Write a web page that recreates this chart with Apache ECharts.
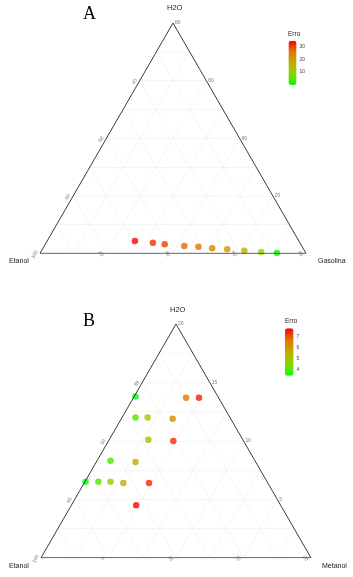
<!DOCTYPE html>
<html>
<head>
<meta charset="utf-8">
<script src="https://cdn.jsdelivr.net/npm/echarts@6/dist/echarts.min.js"></script>
<style>
  * { margin: 0; padding: 0; }
  body { background: #fff; }
  #chart-container { width: 353px; height: 577px; }
</style>
</head>
<body>
<div id="chart-container"></div>
<script>
  // painel A: Etanol / Gasolina / H2O
  var aH2O = [4.3, 3.7, 3.2, 2.6, 2.3, 1.8, 1.4, 0.9, 0.45, 0.1]
  var aGasolina = [26.4, 32.1, 35.9, 42.1, 46.5, 50.9, 55.6, 61.0, 66.3, 71.2]
  var aEtanol = [69.3, 64.2, 60.9, 55.3, 51.2, 47.3, 43.0, 38.1, 33.25, 28.7]
  var aErro = [34, 31, 30, 27, 26, 24, 20, 16, 9, 1]
  var aH2OTicks = [20, 40, 60, 80]
  var aGasTicks = [20, 40, 60, 80]
  var aEtTicks = [40, 60, 80, 100]
  var aErroTicks = [10, 20, 30]

  // painel B: Etanol / Metanol / H2O
  var bH2O = [13.8, 13.7, 13.7, 12.0, 12.0, 11.9, 10.1, 10.0, 8.3, 8.2, 6.5, 6.5, 6.5, 6.4, 6.4, 4.5]
  var bMetanol = [0.1, 3.9, 4.85, 1.0, 1.9, 3.8, 2.9, 4.8, 1.0, 2.9, 0.05, 1.0, 1.9, 2.9, 4.8, 4.8]
  var bEtanol = [86.1, 82.4, 81.45, 87.0, 86.1, 84.3, 87.0, 85.2, 90.7, 88.9, 93.45, 92.5, 91.6, 90.7, 88.8, 90.7]
  var bErro = [3.6, 6.7, 7.5, 4.1, 5.0, 6.4, 5.3, 7.4, 4.0, 5.6, 3.5, 4.1, 4.8, 5.5, 7.4, 7.8]
  var bH2OTicks = [5, 10, 15, 20]
  var bMetTicks = [5, 10, 15, 20]
  var bEtTicks = [85, 90, 95, 100]
  var bErroTicks = [4, 5, 6, 7]

  var H = Math.sqrt(3) / 2
  var gradient = ['#00FF00', '#8FD500', '#BFAB00', '#E27700', '#FF0000']

  // ternario -> cartesiano (triangulo unitario), r = eixo de baixo, t = topo
  function pt(r, t, span) {
    return [r / span + 0.5 * t / span, (t / span) * H]
  }

  function gridLines(span, gi) {
    var step = span / 8
    var data = []
    for (var k = 1; k < 8; k++) {
      var v = k * step
      data.push({ coords: [pt(0, v, span), pt(span - v, v, span)] })
      data.push({ coords: [pt(v, 0, span), pt(v, span - v, span)] })
      data.push({ coords: [pt(v, 0, span), pt(0, v, span)] })
    }
    return {
      type: 'lines', coordinateSystem: 'cartesian2d', xAxisIndex: gi, yAxisIndex: gi,
      silent: true, z: 1, data: data,
      lineStyle: { color: '#F0F0F0', width: 0.7, opacity: 1 },
    }
  }

  function border(span, gi) {
    return {
      type: 'line', xAxisIndex: gi, yAxisIndex: gi, symbol: 'none', silent: true, z: 5,
      data: [pt(0, 0, span), pt(span, 0, span), pt(0, span, span), pt(0, 0, span)],
      lineStyle: { color: '#3a3a3a', width: 1 },
    }
  }

  function tickLabels(gi, data, label) {
    return {
      type: 'scatter', xAxisIndex: gi, yAxisIndex: gi, symbolSize: 0, silent: true, z: 6,
      data: data,
      label: Object.assign({
        show: true, fontSize: 5, color: '#555', fontFamily: 'Liberation Sans',
        formatter: function (p) { return p.value[2] },
      }, label),
    }
  }

  function axisLabels(span, gi, topTicks, rightTicks, leftTicks) {
    return [
      tickLabels(gi, topTicks.map(function (t) { return pt(span - t, t, span).concat([t]) }),
        { position: 'right', distance: 2 }),
      tickLabels(gi, rightTicks.map(function (g) { return pt(g, 0, span).concat([g]) }),
        { position: 'inside', rotate: -60, offset: [-2.5, 5] }),
      tickLabels(gi, leftTicks.map(function (e) { return pt(0, 100 - e, span).concat([e]) }),
        { position: 'inside', rotate: 60, offset: [-3.5, -4] }),
    ]
  }

  function points(h2o, r, erro, span, gi) {
    return {
      type: 'scatter', xAxisIndex: gi, yAxisIndex: gi, symbolSize: 6.5, z: 3,
      data: h2o.map(function (t, i) { return pt(r[i], t, span).concat([erro[i]]) }),
    }
  }

  function hiddenAxis(i, max) {
    return { type: 'value', gridIndex: i, min: 0, max: max, show: false }
  }

  function barAxis(i, min, max, ticks) {
    return {
      type: 'value', gridIndex: i, min: min, max: max, position: 'right',
      axisLine: { show: false }, axisTick: { show: false }, splitLine: { show: false },
      axisLabel: { customValues: ticks, fontSize: 5, color: '#444', margin: 3, fontFamily: 'Liberation Sans' },
    }
  }

  var txt = function (text, left, top, size, extra) {
    return {
      text: text, left: left, top: top, padding: 0,
      textStyle: Object.assign({ fontSize: size, fontWeight: 'normal', color: '#222', fontFamily: 'Liberation Sans' }, extra || {}),
    }
  }

  var chart = echarts.init(document.getElementById('chart-container'), null, { renderer: 'canvas' })
  var seriesA = [gridLines(80, 0), border(80, 0), points(aH2O, aGasolina, aErro, 80, 0)]
    .concat(axisLabels(80, 0, aH2OTicks, aGasTicks, aEtTicks))
  var seriesB = [gridLines(20, 1), border(20, 1), points(bH2O, bMetanol, bErro, 20, 1)]
    .concat(axisLabels(20, 1, bH2OTicks, bMetTicks, bEtTicks))

  var option = {
    animation: false,
    title: [
      txt('A', 83, 5, 18, { fontFamily: 'Liberation Serif', color: '#000' }),
      txt('H2O', 167, 4, 7.5),
      txt('Etanol', 9, 258, 7),
      txt('Gasolina', 318, 258, 7),
      txt('Erro', 288, 31, 6.5),
      txt('B', 83, 312, 18, { fontFamily: 'Liberation Serif', color: '#000' }),
      txt('H2O', 170, 306, 7.5),
      txt('Etanol', 9, 563, 7),
      txt('Metanol', 322, 563, 7),
      txt('Erro', 285, 318, 6.5),
    ],
    grid: [
      { left: 40, top: 23, width: 266, height: 266 * H },
      { left: 41, top: 324, width: 270, height: 270 * H },
      { left: 288.5, top: 40.7, width: 8, height: 44.3 },
      { left: 285, top: 328.3, width: 8.5, height: 47.5 },
    ],
    xAxis: [hiddenAxis(0, 1), hiddenAxis(1, 1), hiddenAxis(2, 1), hiddenAxis(3, 1)],
    yAxis: [
      hiddenAxis(0, H), hiddenAxis(1, H),
      barAxis(2, 0, 34.4, aErroTicks),
      barAxis(3, 3.48, 7.78, bErroTicks),
    ],
    visualMap: [
      {
        type: 'continuous', seriesIndex: 2, dimension: 2, min: 0, max: 34.4,
        left: 288.5, top: 40.7, itemWidth: 8, itemHeight: 44.3, padding: 0,
        calculable: false, showLabel: false, text: null, hoverLink: false,
        inRange: { color: gradient },
      },
      {
        type: 'continuous', seriesIndex: seriesA.length + 2, dimension: 2, min: 3.48, max: 7.78,
        left: 285, top: 328.3, itemWidth: 8.5, itemHeight: 47.5, padding: 0,
        calculable: false, showLabel: false, text: null, hoverLink: false,
        inRange: { color: gradient },
      },
    ],
    series: seriesA.concat(seriesB),
  }
  chart.setOption(option)
  window.addEventListener('resize', chart.resize)
</script>
</body>
</html>
